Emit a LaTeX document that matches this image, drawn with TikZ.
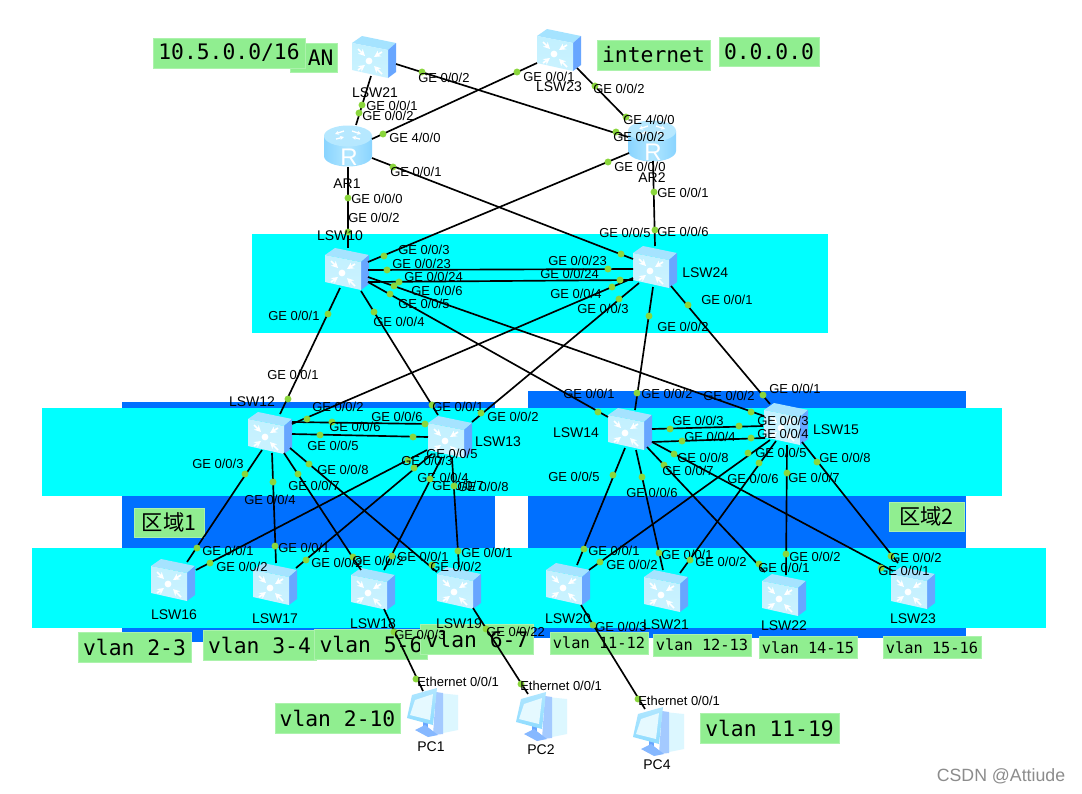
\documentclass[tikz,border=0pt]{standalone}
\usepackage{fontspec}
\usepackage{xcolor}
\usetikzlibrary{arrows.meta, calc}
\setmainfont{Liberation Sans}
\newfontfamily\vlanfont{DejaVu Sans Mono}
\newfontfamily\cjkfont{Noto Sans CJK SC}
\definecolor{bandcyan}{HTML}{00FFFF}
\definecolor{bandblue}{HTML}{0070FF}
\definecolor{vgreen}{HTML}{90EE90}
\definecolor{portgreen}{HTML}{8AD63C}
\definecolor{iconside}{HTML}{68A6FF}
\definecolor{icontop}{HTML}{8FDCFF}
\definecolor{iconface}{HTML}{A8EAFF}
\newcommand{\gport}[4]{\node[portdot] (#1) at (#2) {}; \node[portlbl] (#1t) at (#3) {#4};}
\tikzset{
  dev/.style={inner sep=0pt, minimum size=0pt},
  link/.style={draw=black, line width=1.25pt},
  portdot/.style={circle, fill=portgreen, inner sep=0pt, minimum size=5.2pt},
  portlbl/.style={anchor=west, inner sep=0pt, font=\fontsize{9.75}{10}\selectfont},
  devlbl/.style={inner sep=0pt, font=\fontsize{10.5}{11}\selectfont},
  vbox/.style={fill=vgreen, draw=vgreen!75!white, line width=0.5pt, inner sep=0pt,
               font=\fontsize{16}{18}\vlanfont},
  vbig/.style={vbox, minimum width=84.75pt, minimum height=22.5pt},
  vsmall/.style={vbox, minimum width=73.5pt, minimum height=16.5pt,
                 font=\fontsize{11.5}{13}\vlanfont},
  swicon/.pic={
    \fill[icontop!80!white] (-22,-14) -- (-12,-21) -- (22,-14) -- (14,-7) -- cycle;
    \fill[iconside] (14,-7) -- (22,-14) -- (22,15) -- (14,21) -- cycle;
    \shade[top color=iconface!70!white, bottom color=iconface!60!white] (-22,-14) -- (14,-7) -- (14,21) -- (-22,13) -- cycle;
    \fill[white] (-5,4) circle[radius=3.4];
    \draw[white, line width=1.3pt, -{Stealth[length=5pt,width=5pt]}] (-16,-8) -- (-9,-1);
    \draw[white, line width=1.3pt, -{Stealth[length=5pt,width=5pt]}] (8,-5) -- (0,0);
    \draw[white, line width=1.3pt, -{Stealth[length=5pt,width=5pt]}] (-16,13) -- (-9,8);
    \draw[white, line width=1.3pt, -{Stealth[length=5pt,width=5pt]}] (8,17) -- (0,9);
  },
  ricon/.pic={
    \shade[left color=icontop!85!iconside, right color=icontop!85!iconside, middle color=icontop!70!white]
      (-24,-10) -- (-24,10) arc[start angle=180, end angle=0, x radius=24, y radius=10.5]
      -- (24,-10) -- cycle;
    \fill[icontop!65!white] (0,-10) circle[x radius=24, y radius=10.5];
    \draw[white, line width=1pt, -{Stealth[length=3pt,width=3pt]}] (-4,-15) -- (-13,-12);
    \draw[white, line width=1pt, -{Stealth[length=3pt,width=3pt]}] (4,-15) -- (13,-12);
    \draw[white, line width=1pt, -{Stealth[length=3pt,width=3pt]}] (-12,-7) -- (-4,-9);
    \draw[white, line width=1pt, -{Stealth[length=3pt,width=3pt]}] (12,-7) -- (4,-9);
    \node[white, inner sep=0pt, font=\fontsize{18}{18}\selectfont] (rr) at (1,11) {R};
  },
  pcicon/.pic={
    \fill[iconface!40!white] (7,-19) -- (27,-17) -- (27,18) -- (2,23) -- cycle;
    \fill[iconside!60!white] (5,-20) -- (12,-19) -- (12,22) -- (2,23) -- cycle;
    \fill[iconside] (-8,8) -- (-3,8) -- (-3,18) -- (-8,18) -- cycle;
    \fill[iconside!80!white] (-16,18) -- (-6,13) -- (7,23) -- (-3,25) -- cycle;
    \shade[top color=icontop!70!white, bottom color=icontop] (-19,-17) -- (6,-24) -- (2,13) -- (-24,6) -- cycle;
    \fill[iconface!30!white] (-16,-12) -- (2,-18) -- (-1,8) -- (-21,3) -- cycle;
  }
}
\begin{document}
\begin{tikzpicture}[x=0.75pt, y=-0.75pt]
  \path[use as bounding box, fill=white] (0,0) rectangle (1082,793);

  \fill[bandblue] (122,402) rectangle (495,642);
  \fill[bandblue] (528,391) rectangle (966,638);
  \fill[bandcyan] (252,234) rectangle (828,333);
  \fill[bandcyan] (42,408) rectangle (1002,496);
  \fill[bandcyan] (32,548) rectangle (1046,628);

  \node[vbox, minimum width=35.25pt, minimum height=21.75pt, align=right, text width=30pt] (vlan) at (313.5,57.5) {AN};
  \node[vbox, minimum width=114pt, minimum height=22.5pt] (vnet) at (229,53) {10.5.0.0/16};
  \node[vbox, minimum width=84.75pt, minimum height=22.5pt] (vint) at (653.5,55) {internet};
  \node[vbox, minimum width=75pt, minimum height=21.75pt] (vzero) at (769,51.5) {0.0.0.0};
  \node[vbox, minimum width=52.5pt, minimum height=21.75pt, font=\fontsize{16}{18}\cjkfont] (zone1) at (169,522.5) {区域1};
  \node[vbox, minimum width=56.25pt, minimum height=21.75pt, font=\fontsize{16}{18}\cjkfont] (zone2) at (926.5,516.5) {区域2};
  \node[vbig] (v23) at (134.5,647) {vlan 2-3};
  \node[vbig] (v34) at (259.5,645) {vlan 3-4};
  \node[vbig] (v56) at (371,644) {vlan 5-6};
  \node[vbig] (v67) at (477,639) {vlan 6-7};
  \node[vsmall] (v1112) at (599,643) {vlan 11-12};
  \node[vsmall] (v1213) at (702,645) {vlan 12-13};
  \node[vsmall] (v1415) at (808,647.5) {vlan 14-15};
  \node[vsmall] (v1516) at (932,647.5) {vlan 15-16};
  \node[vbox, minimum width=93.75pt, minimum height=22.5pt] (v210) at (337.5,718) {vlan 2-10};
  \node[vbox, minimum width=104.25pt, minimum height=22.5pt] (v1119) at (769.5,728) {vlan 11-19};

  \node[dev] (lsw21) at (374,57) {};   \pic at (lsw21) {swicon};
  \node[dev] (lsw23t) at (559,50) {};  \pic at (lsw23t) {swicon};
  \node[dev] (ar1) at (348,146) {};    \pic at (ar1) {ricon};
  \node[dev] (ar2) at (652,141) {};    \pic at (ar2) {ricon};
  \node[dev] (lsw10) at (347,269) {};  \pic at (lsw10) {swicon};
  \node[dev] (lsw24) at (655,267) {};  \pic at (lsw24) {swicon};
  \node[dev] (lsw12) at (270,433) {};  \pic at (lsw12) {swicon};
  \node[dev] (lsw13) at (450,437) {};  \pic at (lsw13) {swicon};
  \node[dev] (lsw14) at (630,429) {};  \pic at (lsw14) {swicon};
  \node[dev] (lsw15) at (786,424) {};  \pic at (lsw15) {swicon};
  \node[dev] (lsw16) at (173,580) {};  \pic at (lsw16) {swicon};
  \node[dev] (lsw17) at (275,584) {};  \pic at (lsw17) {swicon};
  \node[dev] (lsw18) at (373,589) {};  \pic at (lsw18) {swicon};
  \node[dev] (lsw19) at (459,588) {};  \pic at (lsw19) {swicon};
  \node[dev] (lsw20) at (568,584) {};  \pic at (lsw20) {swicon};
  \node[dev] (lsw21b) at (666,591) {}; \pic at (lsw21b) {swicon};
  \node[dev] (lsw22) at (784,595) {};  \pic at (lsw22) {swicon};
  \node[dev] (lsw23b) at (913,588) {}; \pic at (lsw23b) {swicon};
  \node[dev] (pc1) at (431,712) {};    \pic at (pc1) {pcicon};
  \node[dev] (pc2) at (540,716) {};    \pic at (pc2) {pcicon};
  \node[dev] (pc4) at (657,731) {};    \pic at (pc4) {pcicon};

  \draw[link] ([shift={(-3,19)}]lsw21.center) -- ([shift={(8,-21)}]ar1.center);
  \draw[link] ([shift={(22,7)}]lsw21.center) -- ([shift={(-24,-4)}]ar2.center);
  \draw[link] ([shift={(24,-7)}]ar1.center) -- ([shift={(-22,13)}]lsw23t.center);
  \draw[link] ([shift={(18,18)}]lsw23t.center) -- ([shift={(-27,-24)}]ar2.center);
  \draw[link] ([shift={(0,21)}]ar1.center) -- ([shift={(1,-21)}]lsw10.center);
  \draw[link] ([shift={(24,12)}]ar1.center) -- ([shift={(-22,-8)}]lsw24.center);
  \draw[link] ([shift={(-23,12)}]ar2.center) -- ([shift={(21,-7)}]lsw10.center);
  \draw[link] ([shift={(1,20)}]ar2.center) -- ([shift={(0,-21)}]lsw24.center);
  \draw[link] ([shift={(21,1)}]lsw10.center) -- ([shift={(-22,2)}]lsw24.center);
  \draw[link] ([shift={(21,13)}]lsw10.center) -- ([shift={(-22,13)}]lsw24.center);
  \draw[link] ([shift={(21,8)}]lsw10.center) -- ([shift={(-22,-8)}]lsw15.center);
  \draw[link] ([shift={(21,13)}]lsw10.center) -- ([shift={(-22,-12)}]lsw14.center);
  \draw[link] ([shift={(-7,19)}]lsw10.center) -- ([shift={(10,-19)}]lsw12.center);
  \draw[link] ([shift={(14,22)}]lsw10.center) -- ([shift={(-12,-22)}]lsw13.center);
  \draw[link] ([shift={(-22,11)}]lsw24.center) -- ([shift={(22,-9)}]lsw12.center);
  \draw[link] ([shift={(-16,16)}]lsw24.center) -- ([shift={(22,-15)}]lsw13.center);
  \draw[link] ([shift={(-2,20)}]lsw24.center) -- ([shift={(5,-19)}]lsw14.center);
  \draw[link] ([shift={(16,19)}]lsw24.center) -- ([shift={(-16,-20)}]lsw15.center);
  \draw[link] ([shift={(22,-11)}]lsw12.center) -- ([shift={(-22,-13)}]lsw13.center);
  \draw[link] ([shift={(22,1)}]lsw12.center) -- ([shift={(-22,0)}]lsw13.center);
  \draw[link] ([shift={(-8,17)}]lsw12.center) -- ([shift={(14,-18)}]lsw16.center);
  \draw[link] ([shift={(2,20)}]lsw12.center) -- ([shift={(1,-21)}]lsw17.center);
  \draw[link] ([shift={(14,20)}]lsw12.center) -- ([shift={(-12,-19)}]lsw18.center);
  \draw[link] ([shift={(20,15)}]lsw12.center) -- ([shift={(-22,-16)}]lsw19.center);
  \draw[link] ([shift={(-23,13)}]lsw13.center) -- ([shift={(23,-10)}]lsw16.center);
  \draw[link] ([shift={(-18,17)}]lsw13.center) -- ([shift={(21,-16)}]lsw17.center);
  \draw[link] ([shift={(-8,20)}]lsw13.center) -- ([shift={(11,-19)}]lsw18.center);
  \draw[link] ([shift={(2,21)}]lsw13.center) -- ([shift={(0,-21)}]lsw19.center);
  \draw[link] ([shift={(22,0)}]lsw14.center) -- ([shift={(-23,2)}]lsw15.center);
  \draw[link] ([shift={(22,13)}]lsw14.center) -- ([shift={(-21,14)}]lsw15.center);
  \draw[link] ([shift={(-5,19)}]lsw14.center) -- ([shift={(9,-19)}]lsw20.center);
  \draw[link] ([shift={(6,21)}]lsw14.center) -- ([shift={(-3,-21)}]lsw21b.center);
  \draw[link] ([shift={(17,18)}]lsw14.center) -- ([shift={(-19,-23)}]lsw22.center);
  \draw[link] ([shift={(22,13)}]lsw14.center) -- ([shift={(-20,-17)}]lsw23b.center);
  \draw[link] ([shift={(-16,16)}]lsw15.center) -- ([shift={(21,-14)}]lsw20.center);
  \draw[link] ([shift={(-10,17)}]lsw15.center) -- ([shift={(14,-18)}]lsw21b.center);
  \draw[link] ([shift={(1,21)}]lsw15.center) -- ([shift={(2,-20)}]lsw22.center);
  \draw[link] ([shift={(16,18)}]lsw15.center) -- ([shift={(-15,-25)}]lsw23b.center);
  \draw[link] ([shift={(11,20)}]lsw18.center) -- ([shift={(-8,-21)}]pc1.center);
  \draw[link] ([shift={(14,20)}]lsw19.center) -- ([shift={(-12,-22)}]pc2.center);
  \draw[link] ([shift={(13,21)}]lsw20.center) -- ([shift={(-12,-22)}]pc4.center);

  \gport{p1}{362,105}{366,106}{GE 0/0/1}
  \gport{p2}{359,113}{362,116}{GE 0/0/2}
  \gport{p3}{422,72}{418,78}{GE 0/0/2}
  \gport{p4}{616,132}{613,137}{GE 0/0/2}
  \gport{p5}{383,134}{389,138}{GE 4/0/0}
  \gport{p6}{517,72}{523,77}{GE 0/0/1}
  \gport{p7}{595,86}{593,89}{GE 0/0/2}
  \gport{p8}{626,117}{623,120}{GE 4/0/0}
  \gport{p9}{348,198}{351,199}{GE 0/0/0}
  \gport{p10}{348,232}{348,218}{GE 0/0/2}
  \gport{p11}{393,167}{390,172}{GE 0/0/1}
  \gport{p12}{621,254}{599,233}{GE 0/0/5}
  \gport{p13}{608,162}{614,167}{GE 0/0/0}
  \gport{p14}{384,256}{398,250}{GE 0/0/3}
  \gport{p15}{654,192}{657,193}{GE 0/0/1}
  \gport{p16}{655,230}{657,232}{GE 0/0/6}
  \gport{p17}{387,270}{392,264}{GE 0/0/23}
  \gport{p18}{608,269}{548,261}{GE 0/0/23}
  \gport{p19}{399,282}{404,277}{GE 0/0/24}
  \gport{p20}{620,280}{540,274}{GE 0/0/24}
  \gport{p21}{394,286}{411,291}{GE 0/0/6}
  \gport{p22}{751,412}{703,396}{GE 0/0/2}
  \gport{p23}{390,294}{398,304}{GE 0/0/5}
  \gport{p24}{598,412}{563,394}{GE 0/0/1}
  \gport{p25}{328,314}{268,316}{GE 0/0/1}
  \gport{p26}{288,399}{267,375}{GE 0/0/1}
  \gport{p27}{374,312}{373,322}{GE 0/0/4}
  \gport{p28}{432,405}{432,407}{GE 0/0/1}
  \gport{p29}{612,287}{550,294}{GE 0/0/4}
  \gport{p30}{307,419}{312,407}{GE 0/0/2}
  \gport{p31}{619,299}{577,309}{GE 0/0/3}
  \gport{p32}{481,413}{487,417}{GE 0/0/2}
  \gport{p33}{649,316}{657,327}{GE 0/0/2}
  \gport{p34}{637,393}{641,394}{GE 0/0/2}
  \gport{p35}{688,305}{701,300}{GE 0/0/1}
  \gport{p36}{763,395}{769,389}{GE 0/0/1}
  \gport{p37}{332,422}{329,427}{GE 0/0/6}
  \gport{p38}{425,424}{371,417}{GE 0/0/6}
  \gport{p39}{320,435}{307,446}{GE 0/0/5}
  \gport{p40}{413,437}{426,454}{GE 0/0/5}
  \gport{p41}{245,474}{192,464}{GE 0/0/3}
  \gport{p42}{197,548}{202,551}{GE 0/0/1}
  \gport{p43}{273,482}{244,500}{GE 0/0/4}
  \gport{p44}{275,546}{278,548}{GE 0/0/1}
  \gport{p45}{298,474}{288,486}{GE 0/0/7}
  \gport{p46}{353,557}{352,561}{GE 0/0/2}
  \gport{p47}{309,464}{317,470}{GE 0/0/8}
  \gport{p48}{432,565}{430,567}{GE 0/0/2}
  \gport{p49}{408,460}{401,461}{GE 0/0/3}
  \gport{p50}{210,563}{216,567}{GE 0/0/2}
  \gport{p51}{414,468}{417,478}{GE 0/0/4}
  \gport{p52}{306,560}{311,563}{GE 0/0/2}
  \gport{p53}{430,479}{432,486}{GE 0/0/7}
  \gport{p54}{392,556}{397,557}{GE 0/0/1}
  \gport{p55}{454,486}{457,487}{GE 0/0/8}
  \gport{p56}{458,551}{461,553}{GE 0/0/1}
  \gport{p57}{670,429}{672,421}{GE 0/0/3}
  \gport{p58}{739,426}{757,421}{GE 0/0/3}
  \gport{p59}{682,441}{684,437}{GE 0/0/4}
  \gport{p60}{751,438}{757,434}{GE 0/0/4}
  \gport{p61}{613,475}{548,477}{GE 0/0/5}
  \gport{p62}{584,549}{588,551}{GE 0/0/1}
  \gport{p63}{642,477}{626,493}{GE 0/0/6}
  \gport{p64}{659,553}{661,555}{GE 0/0/1}
  \gport{p65}{664,465}{662,471}{GE 0/0/7}
  \gport{p66}{759,564}{758,568}{GE 0/0/1}
  \gport{p67}{674,454}{677,458}{GE 0/0/8}
  \gport{p68}{881,568}{878,571}{GE 0/0/1}
  \gport{p69}{748,453}{755,453}{GE 0/0/5}
  \gport{p70}{600,562}{606,565}{GE 0/0/2}
  \gport{p71}{759,463}{727,479}{GE 0/0/6}
  \gport{p72}{690,560}{695,562}{GE 0/0/2}
  \gport{p73}{787,473}{788,478}{GE 0/0/7}
  \gport{p74}{786,554}{789,557}{GE 0/0/2}
  \gport{p75}{817,462}{819,458}{GE 0/0/8}
  \gport{p76}{891,556}{890,558}{GE 0/0/2}
  \gport{p77}{394,632}{394,635}{GE 0/0/3}
  \gport{p78}{416,679}{417,682}{Ethernet 0/0/1}
  \gport{p79}{486,629}{486,632}{GE 0/0/22}
  \gport{p80}{521,684}{520,686}{Ethernet 0/0/1}
  \gport{p81}{593,625}{595,627}{GE 0/0/3}
  \gport{p82}{638,699}{638,701}{Ethernet 0/0/1}

  \node[devlbl] (lsw21t) at (375,93) {LSW21};
  \node[devlbl] (lsw23tt) at (559,87) {LSW23};
  \node[devlbl] (ar1t) at (347,184) {AR1};
  \node[devlbl] (ar2t) at (652,178) {AR2};
  \node[devlbl] (lsw10t) at (340,236) {LSW10};
  \node[devlbl, anchor=west] (lsw24t) at (682,273) {LSW24};
  \node[devlbl] (lsw12t) at (252,402) {LSW12};
  \node[devlbl] (lsw13t) at (498,442) {LSW13};
  \node[devlbl] (lsw14t) at (576,433) {LSW14};
  \node[devlbl] (lsw15t) at (836,430) {LSW15};
  \node[devlbl] (lsw16t) at (174,615) {LSW16};
  \node[devlbl] (lsw17t) at (275,619) {LSW17};
  \node[devlbl] (lsw18t) at (373,624) {LSW18};
  \node[devlbl] (lsw19t) at (459,624) {LSW19};
  \node[devlbl] (lsw20t) at (568,619) {LSW20};
  \node[devlbl] (lsw21bt) at (666,625) {LSW21};
  \node[devlbl] (lsw22t) at (784,626) {LSW22};
  \node[devlbl] (lsw23bt) at (913,619) {LSW23};
  \node[devlbl] (pc1t) at (431,747) {PC1};
  \node[devlbl] (pc2t) at (541,750) {PC2};
  \node[devlbl] (pc4t) at (657,765) {PC4};
  \node[inner sep=0pt, text=black!45, font=\fontsize{13.3}{14}\selectfont] (mark) at (1001,776) {CSDN @Attiude};
\end{tikzpicture}
\end{document}
